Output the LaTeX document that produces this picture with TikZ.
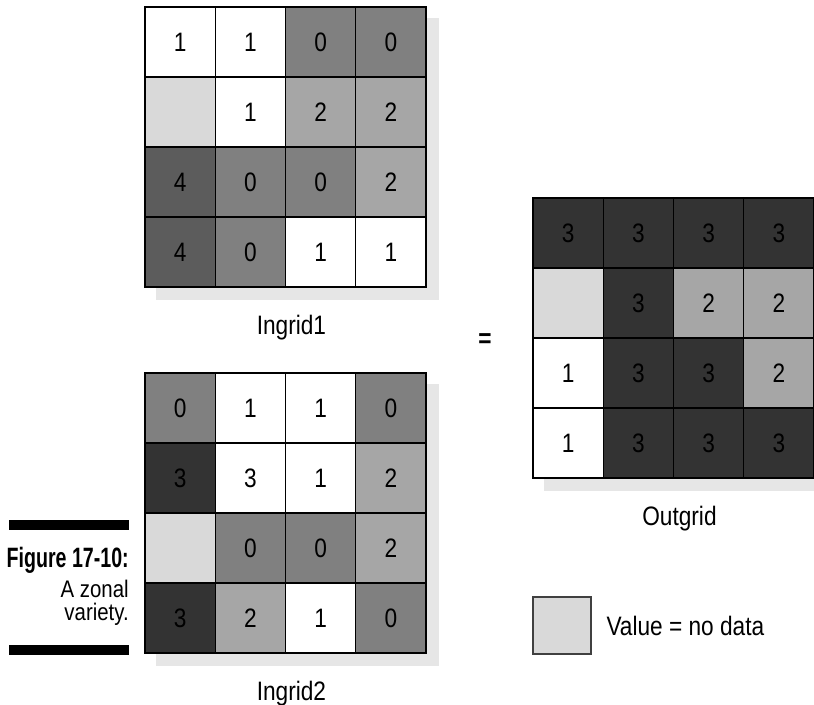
\documentclass[tikz,border=0pt]{standalone}
\usepackage{fontspec}
\setmainfont{Liberation Sans}[FakeStretch=0.85]
\newfontfamily\figfont{Liberation Sans}[FakeStretch=0.7]
\usetikzlibrary{positioning, calc, backgrounds}
\definecolor{NoData}{HTML}{D9D9D9}
\definecolor{ShadowGrey}{HTML}{E6E6E6}
\definecolor{ZeroGrey}{HTML}{808080}
\definecolor{TwoGrey}{HTML}{A6A6A6}
\definecolor{ThreeGrey}{HTML}{333333}
\definecolor{FourGrey}{HTML}{5C5C5C}

\begin{document}
\begin{tikzpicture}[
  x=0.75pt, y=-0.75pt,
  cell/.style={rectangle, draw=black, line width=0.9pt, minimum width=52.7pt, minimum height=52.5pt, inner sep=0pt, font=\fontsize{20}{24}\selectfont},
  v0/.style={fill=ZeroGrey, node contents=0},
  v1/.style={fill=white, node contents=1},
  v2/.style={fill=TwoGrey, node contents=2},
  v3/.style={fill=ThreeGrey, node contents=3},
  w3/.style={fill=white, node contents=3},
  v4/.style={fill=FourGrey, node contents=4},
  vn/.style={fill=NoData, node contents={}},
  gridshadow/.style={fill=ShadowGrey},
  gridname/.style={font=\fontsize{20}{24}\selectfont, inner sep=0pt, text height=14.3pt, text depth=0pt, xshift=4pt},
  legendbox/.style={rectangle, draw=black!75, line width=0.9pt, fill=NoData, minimum width=43.5pt, minimum height=42.75pt, inner sep=0pt},
]
\useasboundingbox (0,0) rectangle (814,705);

% Ingrid1
\foreach \row [count=\r from 0] in {{v1,v1,v0,v0},{vn,v1,v2,v2},{v4,v0,v0,v2},{v4,v0,v1,v1}}
  \foreach \v [count=\c from 0] in \row
    \node (inA-\r-\c) at (180.125+\c*70.25, 42+\r*70) [cell, \v];

% Ingrid2
\foreach \row [count=\r from 0] in {{v0,v1,v1,v0},{v3,w3,v1,v2},{vn,v0,v0,v2},{v3,v2,v1,v0}}
  \foreach \v [count=\c from 0] in \row
    \node (inB-\r-\c) at (180.125+\c*70.25, 408+\r*70) [cell, \v];

% Outgrid
\foreach \row [count=\r from 0] in {{v3,v3,v3,v3},{vn,v3,v2,v2},{v1,v3,v3,v2},{v1,v3,v3,v3}}
  \foreach \v [count=\c from 0] in \row
    \node (out-\r-\c) at (568.125+\c*70.25, 233+\r*70) [cell, \v];

\begin{scope}[on background layer]
  \fill[gridshadow] ($(inA-0-0.north west)+(12,12)$) rectangle ($(inA-3-3.south east)+(12,12)$);
  \fill[gridshadow] ($(inB-0-0.north west)+(12,12)$) rectangle ($(inB-3-3.south east)+(12,12)$);
  \fill[gridshadow] ($(out-0-0.north west)+(12,12)$) rectangle ($(out-3-3.south east)+(12,12)$);
\end{scope}

\node[gridname, below=20.5pt of inA-3-1.south east] (nameA) {Ingrid1};
\node[gridname, below=20.5pt of inB-3-1.south east] (nameB) {Ingrid2};
\node[gridname, below=20.5pt of out-3-1.south east] (nameOut) {Outgrid};

\node[font=\bfseries\fontsize{20}{24}\selectfont] (eq) at (485,341) {=};

% legend
\node[legendbox] (key) at (562,625.5) {};
\node[gridname, xshift=-4pt, right=11pt of key] (keytext) {Value = no data};

% caption
\fill (9,520) rectangle (129,530);
\fill (9,645) rectangle (129,655);
\node[anchor=base east, inner sep=0pt, font=\figfont\bfseries\fontsize{21}{24}\selectfont] (figlabel) at (129,568) {Figure 17-10:};
\node[anchor=base east, inner sep=0pt, font=\fontsize{18}{20}\selectfont] (figtextA) at (129,598) {A zonal};
\node[anchor=base east, inner sep=0pt, font=\fontsize{18}{20}\selectfont] (figtextB) at (129,620) {variety.};

\end{tikzpicture}
\end{document}
